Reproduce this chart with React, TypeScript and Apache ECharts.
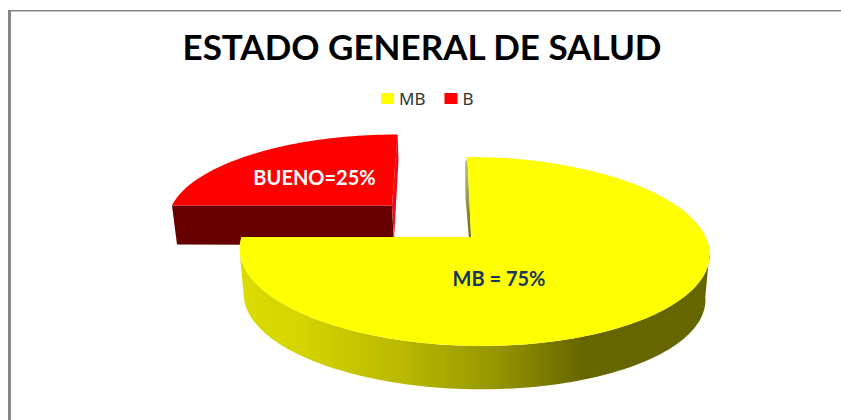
import React, { useEffect, useRef } from "react";
import * as echarts from "echarts";

const titleText = "ESTADO GENERAL DE SALUD";
const categories = ["MB", "B"];
const sliceValues = [75, 25];
const sliceLabels = ["MB = 75%", "BUENO=25%"];
const sliceColors = ["#ffff00", "#ff0000"];

const total = sliceValues.reduce((a, b) => a + b, 0);
const PERSPECTIVE = 0.153;

type Disc = { cx: number; cy: number; R: number; B: number; shear: number };

function project(d: Disc, deg: number): number[] {
  const t = (deg * Math.PI) / 180;
  const u = Math.sin(t);
  const v = Math.cos(t);
  const f = 1 / (1 + PERSPECTIVE * v);
  return [d.cx + d.R * u * f + d.shear * v * f, d.cy - d.B * v * f];
}

function arc(d: Disc, from: number, to: number): number[][] {
  const n = Math.max(2, Math.ceil(Math.abs(to - from) / 1.5));
  const pts: number[][] = [];
  for (let i = 0; i <= n; i++) pts.push(project(d, from + ((to - from) * i) / n));
  return pts;
}

function startAngle(i: number): number {
  let s = 0;
  for (let k = 0; k < i; k++) s += sliceValues[k];
  return (s / total) * 360;
}

function renderSlice(index: number) {
  return (_params: any, api: any) => {
    const value = api.value(0);
    const a0 = startAngle(index);
    const a1 = a0 + (value / total) * 360;
    const children: any[] = [];
    if (index === 0) {
      const top: Disc = { cx: 473.5, cy: 237, R: 232.2, B: 92.3, shear: -7 };
      const bottom: Disc = { cx: 473.5, cy: 283, R: 228, B: 90, shear: -7 };
      const apex = [471, 237];
      // rim of the disc
      const rimTop = arc(top, 98.7, a1 - 8.7);
      const rimBottom = arc(bottom, a1 - 8.7, 98.7);
      children.push({
        type: "polygon",
        shape: { points: rimTop.concat(rimBottom) },
        style: {
          fill: new echarts.graphic.LinearGradient(0, 0, 1, 0, [
            { offset: 0, color: "#dcdc00" },
            { offset: 0.13, color: "#d4d400" },
            { offset: 0.35, color: "#b8b800" },
            { offset: 0.55, color: "#949400" },
            { offset: 0.73, color: "#666600" },
            { offset: 1, color: "#666600" },
          ]),
        },
        silent: true,
      });
      // inner cut wall beside the vertical radius
      children.push({
        type: "polygon",
        shape: { points: [project(top, a0), [465, 163], [465.5, 198], [469, 238], apex] },
        style: {
          fill: new echarts.graphic.LinearGradient(0, 0, 0, 1, [
            { offset: 0, color: "#c4c48e" },
            { offset: 0.45, color: "#a0a050" },
            { offset: 1, color: "#666600" },
          ]),
        },
        silent: true,
      });
      children.push({
        type: "polygon",
        shape: { points: [apex].concat(arc(top, a0, a1)) },
        style: { fill: sliceColors[index] },
        silent: true,
      });
      children.push({
        type: "text",
        x: 499,
        y: 278,
        style: {
          text: sliceLabels[index],
          fill: "#17365d",
          font: 'bold 20px Lato',
          textAlign: "center",
          textVerticalAlign: "middle",
        },
      });
    } else {
      const top: Disc = { cx: 392, cy: 205.5, R: 220, B: 81.9, shear: 6.5 };
      const apex = [392, 205.5];
      const left = project(top, a0);
      const tip = project(top, a1);
      // front face along the horizontal radius
      children.push({
        type: "polygon",
        shape: { points: [left, apex, [394, 245], [177, 244.5]] },
        style: { fill: "#660000" },
        silent: true,
      });
      // inner face along the vertical radius
      children.push({
        type: "polygon",
        shape: { points: [tip, [398.5, 160], [394, 240], apex] },
        style: { fill: "#e4101c" },
        silent: true,
      });
      children.push({
        type: "polygon",
        shape: { points: [apex].concat(arc(top, a0, a1)) },
        style: { fill: sliceColors[index] },
        silent: true,
      });
      children.push({
        type: "text",
        x: 314.5,
        y: 177,
        style: {
          text: sliceLabels[index],
          fill: "#ffffff",
          font: 'bold 20px Lato',
          textAlign: "center",
          textVerticalAlign: "middle",
        },
      });
    }
    return { type: "group", children };
  };
}

export default function App() {
  const ref = useRef<HTMLDivElement>(null);
  useEffect(() => {
    document.body.style.margin = "0";
    const chart = echarts.init(ref.current!, undefined, { renderer: "svg" });
    chart.setOption({
      animation: false,
      backgroundColor: "#ffffff",
      color: sliceColors,
      title: {
        text: titleText,
        left: 417,
        top: 23,
        textAlign: "center",
        textStyle: { fontFamily: "Lato", fontWeight: "bold", fontSize: 35, color: "#000000" },
      },
      legend: {
        data: categories,
        left: 376,
        top: 85,
        icon: "rect",
        itemWidth: 13,
        itemHeight: 11,
        itemGap: 19,
        textStyle: { fontFamily: "Noto Sans", fontSize: 17, color: "#333333" },
        selectedMode: false,
      },
      graphic: [
        { type: "rect", shape: { x: 8, y: 10, width: 833, height: 1.5 }, style: { fill: "#868686" }, silent: true },
        { type: "rect", shape: { x: 8, y: 10, width: 3, height: 410 }, style: { fill: "#868686" }, silent: true },
      ],
      series: [
        { type: "custom", name: categories[1], coordinateSystem: "none", data: [[sliceValues[1]]], renderItem: renderSlice(1), z: 1, itemStyle: { color: sliceColors[1] } },
        { type: "custom", name: categories[0], coordinateSystem: "none", data: [[sliceValues[0]]], renderItem: renderSlice(0), z: 2, itemStyle: { color: sliceColors[0] } },
      ],
    });
    return () => chart.dispose();
  }, []);
  return <div ref={ref} style={{ width: 841, height: 420 }} />;
}
